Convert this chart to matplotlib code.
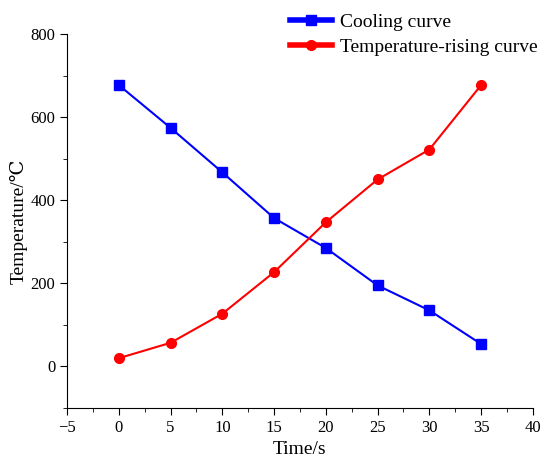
import matplotlib.pyplot as plt
from matplotlib.ticker import MultipleLocator

time_s = [0, 5, 10, 15, 20, 25, 30, 35]
cooling = [677, 574, 467, 357, 285, 195, 135, 54]
rising = [20, 57, 127, 227, 347, 450, 522, 677]

plt.rcParams['font.family'] = ['Liberation Serif', 'DejaVu Serif']

fig = plt.figure(figsize=(5.41, 4.59), dpi=100)
ax = fig.add_axes([0.124, 0.111, 0.861, 0.815])

ax.plot(time_s, cooling, color='blue', marker='s', markersize=6.5, lw=1.5, label='Cooling curve')
ax.plot(time_s, rising, color='red', marker='o', markersize=7, lw=1.5, label='Temperature-rising curve')

ax.set_xlim(-5, 40)
ax.set_ylim(-100, 800)
ax.xaxis.set_major_locator(MultipleLocator(5))
ax.xaxis.set_minor_locator(MultipleLocator(2.5))
ax.yaxis.set_major_locator(MultipleLocator(200))
ax.yaxis.set_minor_locator(MultipleLocator(100))
ax.spines['top'].set_visible(False)
ax.spines['right'].set_visible(False)
ax.tick_params(which='major', direction='out', length=5, labelsize=12)
ax.tick_params(which='minor', direction='out', length=3)
ax.set_xticklabels([f'{int(t)}'.replace('-', '\u2212') for t in ax.get_xticks()])

ax.set_xlabel('Time/s', fontsize=14, labelpad=4)
ax.set_ylabel('Temperature/\u2103', fontsize=14, labelpad=2)

leg = fig.legend(loc='upper left', bbox_to_anchor=(0.51, 1.0), frameon=False,
                 fontsize=14, handlelength=2.2, handletextpad=0.4, labelspacing=0.35,
                 borderaxespad=0.3)
for line in leg.get_lines():
    line.set_linewidth(4)

fig.savefig('out.png', dpi=100)
